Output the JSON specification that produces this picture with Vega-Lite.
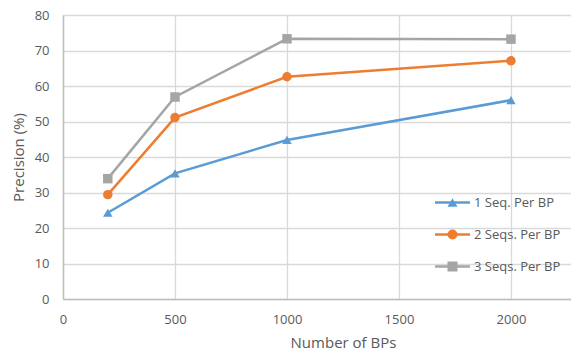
{
  "$schema": "https://vega.github.io/schema/vega-lite/v6.json",
  "width": 508,
  "height": 284,
  "autosize": "none",
  "padding": {"left": 63, "top": 15, "right": 0, "bottom": 59},
  "background": "white",
  "config": {
    "view": {"stroke": null},
    "font": "Open Sans",
    "axis": {
      "labelColor": "#595959",
      "labelFontSize": 13,
      "titleColor": "#595959",
      "titleFontSize": 15,
      "titleFontWeight": "normal",
      "gridColor": "#D9D9D9",
      "gridWidth": 1.3,
      "domainColor": "#BFBFBF",
      "domainWidth": 1.5,
      "ticks": false
    },
    "legend": {"labelColor": "#595959", "labelFontSize": 13}
  },
  "data": {
    "values": [
      {"bps": 200, "precision": 24.3, "series": "1 Seq. Per BP"},
      {"bps": 500, "precision": 35.4, "series": "1 Seq. Per BP"},
      {"bps": 1000, "precision": 44.8, "series": "1 Seq. Per BP"},
      {"bps": 2000, "precision": 56.0, "series": "1 Seq. Per BP"},
      {"bps": 200, "precision": 29.4, "series": "2 Seqs. Per BP"},
      {"bps": 500, "precision": 51.1, "series": "2 Seqs. Per BP"},
      {"bps": 1000, "precision": 62.6, "series": "2 Seqs. Per BP"},
      {"bps": 2000, "precision": 67.1, "series": "2 Seqs. Per BP"},
      {"bps": 200, "precision": 33.9, "series": "3 Seqs. Per BP"},
      {"bps": 500, "precision": 56.9, "series": "3 Seqs. Per BP"},
      {"bps": 1000, "precision": 73.3, "series": "3 Seqs. Per BP"},
      {"bps": 2000, "precision": 73.2, "series": "3 Seqs. Per BP"}
    ]
  },
  "encoding": {
    "x": {
      "field": "bps", "type": "quantitative",
      "scale": {"domain": [0, 2268], "nice": false},
      "axis": {"values": [0, 500, 1000, 1500, 2000], "format": "d", "labelFlush": false, "title": "Number of BPs", "labelPadding": 14, "titlePadding": 9, "titleX": 280, "titleAnchor": "middle"}
    },
    "y": {
      "field": "precision", "type": "quantitative",
      "scale": {"domain": [0, 80], "nice": false},
      "axis": {"values": [0, 10, 20, 30, 40, 50, 60, 70, 80], "title": "Precision (%)", "labelPadding": 14, "titlePadding": 8}
    }
  },
  "layer": [
    {
      "mark": {"type": "line", "strokeWidth": 2.5},
      "encoding": {
        "stroke": {
          "field": "series", "type": "nominal",
          "scale": {"domain": ["1 Seq. Per BP", "2 Seqs. Per BP", "3 Seqs. Per BP"], "range": ["#5B9BD5", "#ED7D31", "#A5A5A5"]},
          "legend": {
            "title": null,
            "orient": "none",
            "legendX": 383,
            "legendY": 181,
            "padding": 0,
            "symbolType": "M-3.5,0H3.5",
            "symbolStrokeWidth": 2.5,
            "symbolSize": 100,
            "labelOffset": 15,
            "rowPadding": 18,
            "zindex": 0
          }
        }
      }
    },
    {
      "mark": {"type": "point", "filled": true, "size": 90, "opacity": 1},
      "encoding": {
        "fill": {
          "field": "series", "type": "nominal",
          "scale": {"range": ["#5B9BD5", "#ED7D31", "#A5A5A5"]},
          "legend": {
            "title": null,
            "orient": "none",
            "legendX": 383,
            "legendY": 181,
            "padding": 0,
            "symbolSize": 100,
            "symbolOpacity": 1,
            "symbolStrokeWidth": 0,
            "labelOffset": 15,
            "labelOpacity": 0,
            "rowPadding": 18,
            "zindex": 1
          }
        },
        "shape": {
          "field": "series", "type": "nominal",
          "scale": {"range": ["triangle-up", "circle", "square"]},
          "legend": {
            "title": null,
            "orient": "none",
            "legendX": 383,
            "legendY": 181,
            "padding": 0,
            "symbolSize": 100,
            "labelOffset": 15,
            "labelOpacity": 0,
            "rowPadding": 18,
            "zindex": 1
          }
        }
      }
    }
  ]
}
